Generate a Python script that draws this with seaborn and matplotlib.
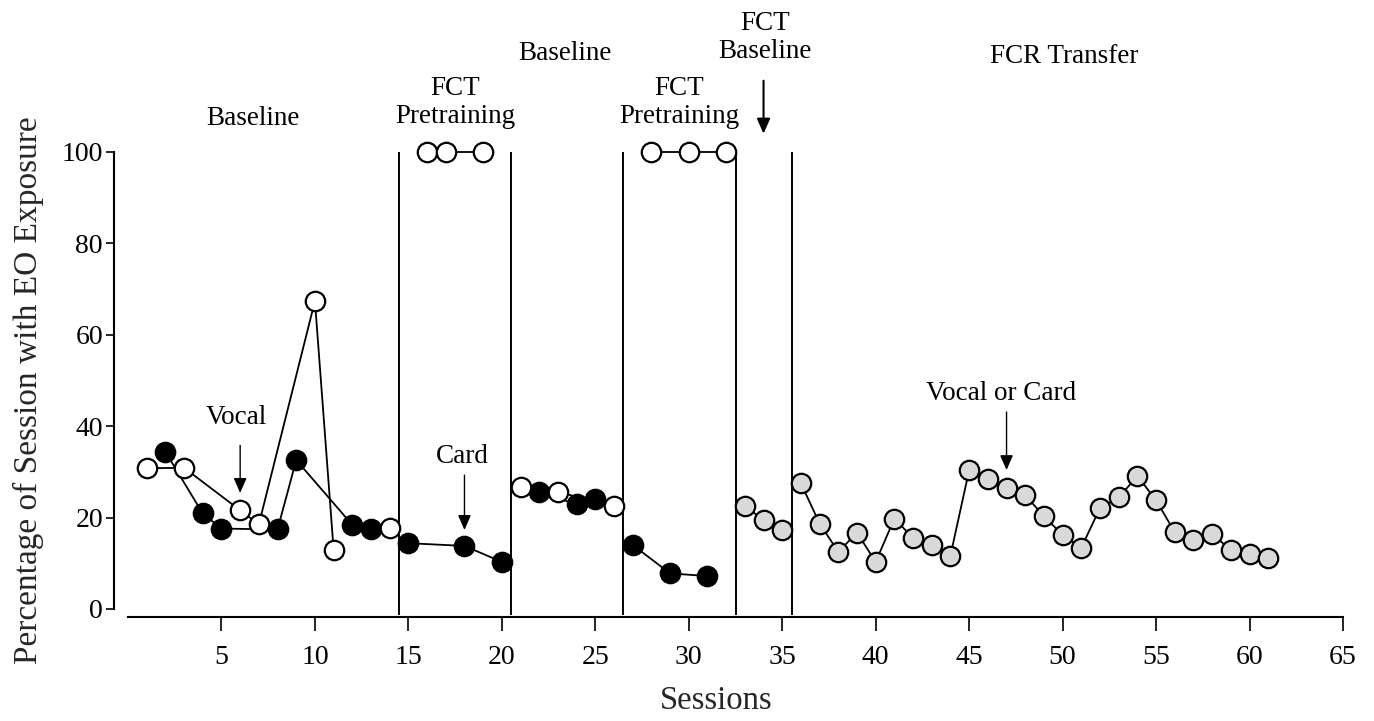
import numpy as np
import pandas as pd
import matplotlib
matplotlib.use("Agg")
import matplotlib.pyplot as plt
import seaborn as sns

# ---------------- data ----------------
# open (white) circles, by segment
open_seg1_x = [1, 3, 6, 7, 10, 11]
open_seg1_y = [30.8, 30.9, 21.6, 18.5, 67.4, 13.0]
open_seg2_x = [14]
open_seg2_y = [17.8]
open_seg3_x = [16, 17, 19]
open_seg3_y = [100, 100, 100]
open_seg4_x = [21, 23, 26]
open_seg4_y = [26.7, 25.6, 22.5]
open_seg5_x = [28, 30, 32]
open_seg5_y = [100, 100, 100]

# filled (black) circles, by segment
black_seg1_x = [2, 4, 5, 8, 9, 12, 13]
black_seg1_y = [34.4, 20.9, 17.6, 17.4, 32.6, 18.4, 17.6]
black_seg2_x = [15, 18, 20]
black_seg2_y = [14.4, 13.8, 10.3]
black_seg3_x = [22, 24, 25]
black_seg3_y = [25.6, 22.9, 24.0]
black_seg4_x = [27, 29, 31]
black_seg4_y = [14.0, 7.8, 7.2]

# grey circles (FCT baseline, FCR transfer)
grey_seg1_x = [33, 34, 35]
grey_seg1_y = [22.5, 19.5, 17.3]
grey_seg2_x = list(range(36, 62))
grey_seg2_y = [27.5, 18.7, 12.5, 16.7, 10.3, 19.8, 15.5, 14.0, 11.7, 30.4,
               28.4, 26.4, 24.9, 20.3, 16.2, 13.4, 22.1, 24.4, 29.1, 23.8,
               16.8, 15.1, 16.4, 12.9, 12.0, 11.1]

phase_lines = [14.5, 20.5, 26.5, 32.5, 35.5]
x_ticks = [5, 10, 15, 20, 25, 30, 35, 40, 45, 50, 55, 60, 65]
y_ticks = [0, 20, 40, 60, 80, 100]

def seg_frame(segs):
    rows = []
    for i, (xs, ys) in enumerate(segs):
        for x, y in zip(xs, ys):
            rows.append({"session": x, "pct": y, "seg": i})
    return pd.DataFrame(rows)

df_open = seg_frame([(open_seg1_x, open_seg1_y), (open_seg2_x, open_seg2_y),
                     (open_seg3_x, open_seg3_y), (open_seg4_x, open_seg4_y),
                     (open_seg5_x, open_seg5_y)])
df_black = seg_frame([(black_seg1_x, black_seg1_y), (black_seg2_x, black_seg2_y),
                      (black_seg3_x, black_seg3_y), (black_seg4_x, black_seg4_y)])
df_grey = seg_frame([(grey_seg1_x, grey_seg1_y), (grey_seg2_x, grey_seg2_y)])

# ---------------- style ----------------
sns.set_theme(style="ticks")
plt.rcParams["font.family"] = ["Liberation Serif", "DejaVu Serif"]

fig = plt.figure(figsize=(13.74, 7.21), dpi=100)
ax = fig.add_axes([128 / 1374, (721 - 609) / 721, (1343 - 128) / 1374, (609 - 152) / 721])
ax.set_xlim(0, 65)
ax.set_ylim(0, 100)

ms = 14
mew = 1.6
lw = 1.3

# phase lines
ax.vlines(phase_lines, -1.3, 100, colors="black", lw=1.4, clip_on=False, zorder=1)

common = dict(x="session", y="pct", units="seg", estimator=None, sort=False,
              marker="o", markersize=ms, markeredgecolor="black",
              markeredgewidth=mew, color="black", linewidth=lw,
              legend=False, ax=ax)

sns.lineplot(data=df_black, markerfacecolor="black", **common)
sns.lineplot(data=df_grey, markerfacecolor="#d9d9d9", **common)
sns.lineplot(data=df_open, markerfacecolor="white", **common)
for ln in ax.lines:
    ln.set_clip_on(False)
    ln.set_zorder(3)

# ---------------- axes ----------------
sns.despine(ax=ax)
ax.spines["left"].set_position(("outward", 10))
ax.spines["bottom"].set_position(("outward", 6))
ax.spines["left"].set_bounds(0, 100)
ax.spines["bottom"].set_bounds(0, 65)
for s in ("left", "bottom"):
    ax.spines[s].set_linewidth(1.5)
    ax.spines[s].set_color("black")

ax.set_xticks(x_ticks)
ax.set_xticklabels([str(t) for t in x_ticks])
ax.set_yticks(y_ticks)
ax.set_yticklabels([str(t) for t in y_ticks])
ax.tick_params(axis="x", direction="out", length=10, width=1.2, pad=10,
               labelsize=20, colors="black")
ax.tick_params(axis="y", direction="out", length=6, width=1.2, pad=2,
               labelsize=20, colors="black")

ax.set_xlabel("Sessions", fontsize=23.5)
ax.set_ylabel("Percentage of Session with EO Exposure", fontsize=24)
ax.xaxis.set_label_coords(0.484, -0.168)
ax.yaxis.set_label_coords(-0.069, 0.479)

# ---------------- phase labels ----------------
tkw = dict(ha="center", va="center", fontsize=19.5, linespacing=1.15,
           clip_on=False, color="black")
ax.text(6.7, 107.3, "Baseline", **tkw)
ax.text(17.5, 110.8, "FCT\nPretraining", **tkw)
ax.text(23.4, 121.5, "Baseline", **tkw)
ax.text(29.5, 110.8, "FCT\nPretraining", **tkw)
ax.text(34.1, 125.1, "FCT\nBaseline", **tkw)
ax.text(50.1, 120.9, "FCR Transfer", **tkw)

def arrow(x, y0, y1, lw_=1.0):
    ax.annotate("", xy=(x, y1), xytext=(x, y0), xycoords="data",
                annotation_clip=False,
                arrowprops=dict(arrowstyle="-|>,head_length=0.75,head_width=0.33",
                                color="black", lw=lw_, shrinkA=0, shrinkB=0))

arrow(34, 115.6, 104.0, lw_=1.5)
ax.text(5.8, 42.0, "Vocal", **tkw)
arrow(6, 35.8, 25.4)
ax.text(17.9, 33.4, "Card", **tkw)
arrow(18, 29.3, 17.3)
ax.text(46.7, 47.2, "Vocal or Card", **tkw)
arrow(47, 43.1, 30.4)

fig.savefig("out.png", dpi=100)
